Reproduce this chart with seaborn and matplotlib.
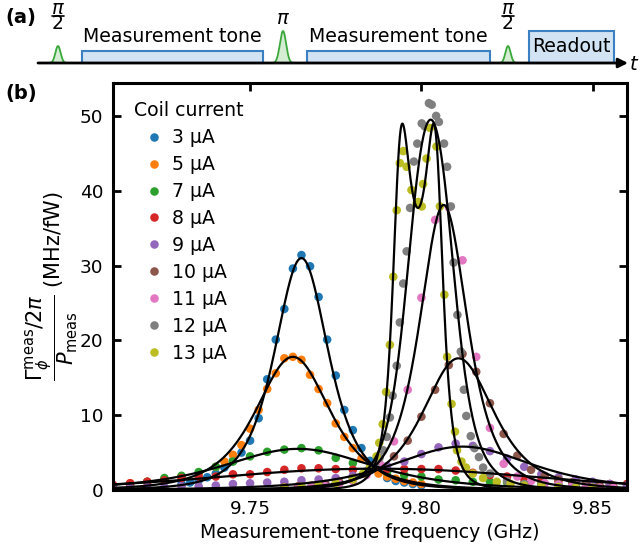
import matplotlib
matplotlib.use("Agg")
import matplotlib.pyplot as plt
from matplotlib.patches import Rectangle
import numpy as np
import pandas as pd
import seaborn as sns

# coil currents and their colours
currents = ["3 μA", "5 μA", "7 μA", "8 μA", "9 μA", "10 μA", "11 μA", "12 μA", "13 μA"]
palette = sns.color_palette("tab10", 9)

blue_f = [9.7300, 9.7325, 9.7350, 9.7375, 9.7400, 9.7425, 9.7450, 9.7475, 9.7500, 9.7525,
          9.7550, 9.7575, 9.7600, 9.7625, 9.7650, 9.7675, 9.7700, 9.7725, 9.7750, 9.7775,
          9.7800, 9.7825, 9.7850, 9.7875, 9.7900, 9.7925, 9.7950, 9.7975, 9.8000]
blue_v = [0.8, 1.0, 1.3, 1.7, 2.2, 3.0, 3.9, 5.0, 6.6, 9.6,
          14.8, 20.1, 24.2, 29.6, 31.4, 29.9, 25.8, 20.1, 15.3, 10.7,
          8.0, 5.6, 3.9, 2.6, 1.6, 1.2, 1.0, 0.8, 0.6]

orange_f = [9.7150, 9.7200, 9.7250, 9.7300, 9.7350, 9.7400, 9.7425, 9.7450, 9.7475, 9.7500,
            9.7525, 9.7550, 9.7575, 9.7600, 9.7625, 9.7650, 9.7675, 9.7700, 9.7725, 9.7750,
            9.7775, 9.7800, 9.7825, 9.7850, 9.7875, 9.7900, 9.7925, 9.7950, 9.7975, 9.8000]
orange_v = [0.9, 1.1, 1.3, 1.8, 2.2, 3.1, 3.8, 4.7, 6.0, 8.2,
            10.7, 13.5, 15.6, 17.6, 17.8, 17.4, 15.4, 13.5, 11.6, 8.9,
            7.1, 5.6, 4.2, 3.0, 2.2, 1.8, 1.5, 1.2, 1.0, 0.8]

coarse_f = [9.710, 9.715, 9.720, 9.725, 9.730, 9.735, 9.740, 9.745, 9.750, 9.755,
            9.760, 9.765, 9.770, 9.775, 9.780, 9.785, 9.790, 9.795, 9.800, 9.805,
            9.810, 9.815, 9.820, 9.825, 9.830, 9.835, 9.840, 9.845, 9.850, 9.855, 9.860]
green_v = [0.5, 0.7, 1.1, 1.6, 1.9, 2.4, 3.1, 3.8, 4.5, 5.1,
           5.4, 5.6, 5.3, 4.3, 3.6, 2.8, 2.4, 2.0, 1.8, 1.4,
           1.3, 1.1, 1.1, 1.0, 0.9, 0.8, 0.7, 0.6, 0.6, 0.5, 0.5]
red_v = [0.7, 0.9, 1.1, 1.3, 1.6, 1.8, 1.8, 2.1, 2.1, 2.4,
         2.7, 2.9, 2.9, 2.8, 2.7, 2.8, 2.8, 2.8, 2.8, 2.8,
         2.6, 2.3, 2.0, 1.8, 1.5, 1.3, 1.2, 1.1, 1.0, 0.8, 0.8]
purple_v = [0.3, 0.3, 0.4, 0.4, 0.5, 0.5, 0.6, 0.8, 0.9, 1.0,
            1.1, 1.3, 1.4, 1.6, 1.9, 2.6, 3.2, 3.8, 4.8, 5.7,
            6.2, 5.9, 5.2, 4.2, 3.1, 2.1, 1.7, 1.4, 1.1, 0.8, 0.6]

mid_f = [9.7600, 9.7640, 9.7680, 9.7720, 9.7760, 9.7800, 9.7840, 9.7880, 9.7920, 9.7960,
         9.8000, 9.8040, 9.8080, 9.8120, 9.8160, 9.8200, 9.8240, 9.8280, 9.8320, 9.8360,
         9.8400, 9.8440, 9.8480, 9.8520, 9.8560]
brown_v = [0.4, 0.5, 0.6, 0.8, 1.1, 1.6, 2.2, 3.3, 4.5, 6.6,
           9.8, 13.4, 16.7, 18.2, 15.8, 11.6, 7.5, 4.6, 2.7, 1.9,
           1.4, 1.0, 0.8, 0.6, 0.5]
pink_v = [0.3, 0.3, 0.4, 0.5, 0.8, 1.2, 2.0, 3.4, 6.5, 13.4,
          25.7, 36.1, 37.8, 30.7, 17.8, 8.3, 3.5, 1.8, 1.2, 0.9,
          0.7, 0.5, 0.4, 0.3, 0.3]

gray_f = [9.760, 9.765, 9.770, 9.775, 9.780, 9.784, 9.7865, 9.7878, 9.7889, 9.7899,
          9.7908, 9.7916, 9.7928, 9.7937, 9.7947, 9.7957, 9.7967, 9.7978, 9.7988, 9.8001,
          9.8010, 9.8022, 9.8030, 9.8043, 9.8051, 9.8066, 9.8075, 9.8086, 9.8094, 9.8105,
          9.8115, 9.8124, 9.8131, 9.8144, 9.8155, 9.8168, 9.818, 9.820, 9.825, 9.830,
          9.835, 9.840, 9.845, 9.850]
gray_v = [0.3, 0.4, 0.6, 0.9, 1.5, 2.5, 3.3, 4.3, 5.3, 7.1,
          9.7, 12.6, 16.6, 22.4, 27.6, 31.9, 37.7, 43.9, 46.3, 49.0,
          48.6, 51.7, 51.5, 50.0, 49.2, 46.3, 43.2, 37.9, 30.4, 23.4,
          18.5, 13.4, 9.9, 7.2, 5.6, 4.4, 3.0, 2.2, 1.2, 0.8,
          0.6, 0.4, 0.4, 0.3]

olive_f = [9.760, 9.765, 9.770, 9.775, 9.780, 9.783, 9.785, 9.7869, 9.7877, 9.7887,
           9.7897, 9.7908, 9.7918, 9.7928, 9.7937, 9.7947, 9.7957, 9.7971, 9.7986, 9.7991,
           9.8001, 9.8005, 9.8015, 9.8025, 9.8044, 9.8054, 9.8067, 9.8075, 9.8088, 9.8098,
           9.8104, 9.8117, 9.813, 9.815, 9.818, 9.822, 9.826, 9.830, 9.835, 9.840,
           9.845, 9.850]
olive_v = [0.3, 0.4, 0.6, 0.9, 1.4, 2.2, 3.0, 4.5, 6.3, 8.8,
           13.1, 19.4, 28.5, 37.4, 43.7, 45.3, 43.2, 40.1, 38.3, 38.5,
           37.9, 40.9, 44.3, 48.4, 45.9, 37.9, 26.1, 17.8, 11.5, 7.8,
           5.3, 3.8, 3.0, 2.2, 1.6, 1.1, 0.8, 0.6, 0.5, 0.4,
           0.3, 0.3]

freqs = [blue_f, orange_f, coarse_f, coarse_f, coarse_f, mid_f, mid_f, gray_f, olive_f]
rates = [blue_v, orange_v, green_v, red_v, purple_v, brown_v, pink_v, gray_v, olive_v]

# fit parameters (centre GHz, value at centre, half width GHz, half splitting GHz)
fit_center = [9.7650, 9.7625, 9.7640, 9.7870, 9.8120, 9.8108, 9.8065, 9.8027, 9.7990]
fit_peak = [31.0, 17.8, 5.5, 2.85, 5.8, 17.6, 38.1, 49.5, 37.7]
fit_width = [0.0145, 0.0200, 0.0400, 0.0600, 0.0370, 0.0190, 0.0128, 0.0082, 0.00335]
fit_split = [0.0, 0.0, 0.0, 0.0346, 0.0, 0.0, 0.0, 0.0050, 0.00565]


def fit_curve(f, f0, amp, g, d):
    lo = 1 + ((f - f0 - d) / g) ** 2
    hi = 1 + ((f - f0 + d) / g) ** 2
    return amp * (1 + (d / g) ** 2) ** 2 / (lo * hi)


rows = []
for lab, fs, vs in zip(currents, freqs, rates):
    for f, v in zip(fs, vs):
        rows.append((f, v, lab))
dots = pd.DataFrame(rows, columns=["freq", "rate", "current"])

fgrid = np.linspace(9.705, 9.87, 2000)
fit_rows = []
for lab, f0, a, g, d in zip(currents, fit_center, fit_peak, fit_width, fit_split):
    for f, y in zip(fgrid, fit_curve(fgrid, f0, a, g, d)):
        fit_rows.append((f, y, lab))
fits = pd.DataFrame(fit_rows, columns=["freq", "rate", "current"])

sns.set_style("ticks", {"axes.edgecolor": "black", "xtick.color": "black",
                        "ytick.color": "black", "text.color": "black",
                        "axes.labelcolor": "black"})
plt.rcParams["font.family"] = ["DejaVu Sans"]
plt.rcParams["mathtext.fontset"] = "dejavusans"

FS = 13.6
W, H = 642, 552
fig = plt.figure(figsize=(6.42, 5.52), dpi=100)

# ---- panel (b)
ax = fig.add_axes([113 / W, 1 - 490 / H, (627 - 113) / W, (490 - 83) / H])
sns.scatterplot(data=dots, x="freq", y="rate", hue="current", hue_order=currents,
                palette=palette, s=38, linewidth=0, ax=ax, zorder=2)
sns.lineplot(data=fits, x="freq", y="rate", units="current", estimator=None,
             color="black", lw=1.6, ax=ax, zorder=3, legend=False)

ax.set_xlim(9.71, 9.86)
ax.set_ylim(0, 54.4)
ax.set_xticks([9.75, 9.80, 9.85])
ax.set_xticklabels(["9.75", "9.80", "9.85"])
ax.set_yticks([0, 10, 20, 30, 40, 50])
ax.tick_params(direction="in", length=6, width=2, top=True, right=True,
               labelsize=13.3, pad=7, colors="black")
for sp in ax.spines.values():
    sp.set_linewidth(2.2)
    sp.set_color("black")
    sp.set_visible(True)

ax.set_xlabel("Measurement-tone frequency (GHz)", fontsize=FS, labelpad=4)
ax.set_ylabel(r"$\dfrac{\Gamma_\phi^{\mathrm{meas}}/2\pi}{P_{\mathrm{meas}}}$ (MHz/fW)",
              fontsize=15)
ax.yaxis.set_label_coords(-0.12, 0.5)
ax.yaxis.label.set_verticalalignment("center")

handles, labels = ax.get_legend_handles_labels()
ax.legend(handles, labels, title="Coil current", loc="upper left",
          bbox_to_anchor=(0.04, 0.955), frameon=False, fontsize=FS,
          title_fontsize=FS, alignment="left", handlelength=2.2,
          handletextpad=-0.15, labelspacing=0.42, borderaxespad=0, borderpad=0)

# ---- panel (a): pulse sequence
ax0 = fig.add_axes([0, 1 - 80 / H, 1, 80 / H])
ax0.set_xlim(0, W)
ax0.set_ylim(80, 0)
ax0.axis("off")

base = 63
box_fc, box_ec = "#d2e3f3", "#3b80c2"
pulse_fc, pulse_ec = "#d5edd3", "#3aa83a"

tone_boxes = [(82, 263), (307, 490)]
for x0, x1 in tone_boxes:
    ax0.add_patch(Rectangle((x0, base - 12), x1 - x0, 12, fc=box_fc, ec=box_ec, lw=1.5))
    ax0.text((x0 + x1) / 2, 36, "Measurement tone", ha="center", va="center", fontsize=FS)
ax0.add_patch(Rectangle((529, 31), 85, base - 31, fc=box_fc, ec=box_ec, lw=1.5))
ax0.text(571.5, 47, "Readout", ha="center", va="center", fontsize=FS)

# (centre, height, sigma, pulse area as a fraction of pi)
pulses = [(58, 17, 2.6, "half"), (283, 32, 3.1, "full"), (508, 17, 2.6, "half")]
tt = np.linspace(-10, 10, 140)
for xc, h, sig, kind in pulses:
    prof = base - h * np.exp(-tt ** 2 / (2 * sig ** 2))
    ax0.fill_between(xc + tt, base, prof, color=pulse_fc, lw=0)
    ax0.plot(xc + tt, prof, color=pulse_ec, lw=1.3)
    if kind == "half":
        # stacked fraction pi / 2
        ax0.text(xc, 8.5, r"$\pi$", ha="center", va="center", fontsize=14)
        ax0.plot([xc - 6, xc + 6], [15.5, 15.5], color="black", lw=1.2)
        ax0.text(xc, 23.5, "2", ha="center", va="center", fontsize=13.5)
    else:
        ax0.text(xc, 19, r"$\pi$", ha="center", va="center", fontsize=14)

ax0.annotate("", xy=(628, base), xytext=(38, base),
             arrowprops=dict(arrowstyle="-|>", lw=2, color="black", mutation_scale=14,
                             shrinkA=0, shrinkB=0))
ax0.text(630, base + 1, "t", fontsize=14, style="italic", ha="left", va="center")

fig.text(5 / W, 1 - 17 / H, "(a)", fontsize=14, fontweight="bold", va="center")
fig.text(5 / W, 1 - 93 / H, "(b)", fontsize=14, fontweight="bold", va="center")

fig.savefig("out.png", dpi=100)
